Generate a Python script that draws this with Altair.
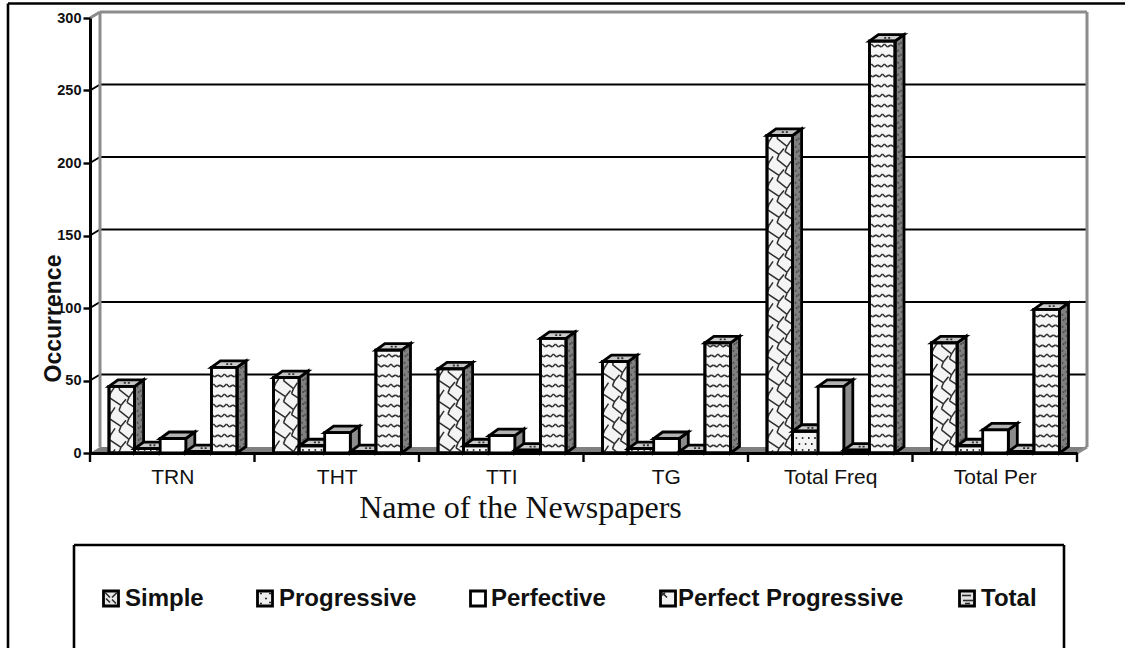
import altair as alt
import pandas as pd

# Occurrences per newspaper, one list per tense series
categories = ["TRN", "THT", "TTI", "TG", "Total Freq", "Total Per"]
simple = [46, 52, 58, 63, 219, 76]
progressive = [3, 5, 5, 3, 15, 5]
perfective = [10, 14, 12, 10, 46, 16]
perfect_progressive = [1, 1, 2, 1, 2, 1]
total = [59, 71, 79, 76, 284, 99]
series_names = ["Simple", "Progressive", "Perfective", "Perfect Progressive", "Total"]
series_values = [simple, progressive, perfective, perfect_progressive, total]
y_ticks = [0, 50, 100, 150, 200, 250, 300]

# Plot geometry in pixels
PLOT_W, PLOT_H = 987, 435
PAD_L, PAD_T = 90, 18
CAT_PX = PLOT_W / 6
VAL_PX = PLOT_H / 300
BAR_PX, BAR_START = 25.6, 19
DEPTH_X, DEPTH_Y = 9, 6.5
WALL_X, WALL_Y = 10, 6

def ux(px):
    return px / CAT_PX

def uy(px):
    return px / VAL_PX

x_scale = alt.Scale(domain=[0, 6], range=[0, PLOT_W], nice=False, zero=False)
y_scale = alt.Scale(domain=[0, 300], range=[PLOT_H, 0], nice=False)

def X(field, **kw):
    return alt.X(field, type="quantitative", scale=x_scale, axis=None, **kw)

def Y(field, **kw):
    return alt.Y(field, type="quantitative", scale=y_scale, axis=None, stack=None, **kw)

def clip_segment(x1, y1, x2, y2, xmin, xmax, ymin, ymax):
    """Liang-Barsky clipping of one segment against a rectangle."""
    t0, t1 = 0.0, 1.0
    dx, dy = x2 - x1, y2 - y1
    for p, q in ((-dx, x1 - xmin), (dx, xmax - x1), (-dy, y1 - ymin), (dy, ymax - y1)):
        if p == 0:
            if q < 0:
                return None
        else:
            r = q / p
            if p < 0:
                t0 = max(t0, r)
            else:
                t1 = min(t1, r)
    if t0 >= t1:
        return None
    return x1 + t0 * dx, y1 + t0 * dy, x1 + t1 * dx, y1 + t1 * dy

# Hatch motifs, as polylines in pixels (x right, y down)
CHAIN = [(0, 0), (10, 8), (8, 13), (20, 21), (18, 26)]
CHAIN_HOOKS = [((10, 8), (14, 2)), ((20, 21), (25, 15))]
WAVE = [(0, 0), (3, 3), (6.5, 1), (10, 3), (13, 0)]

def hatch_segments(left, value, kind):
    """Short segments (plot pixels, y negative above the base) texturing a front face."""
    h = value * VAL_PX
    out = []
    if kind == "chain":
        # Stepped diagonals running down to the right, stacked at a fixed pitch
        start = -h - 70.0
        while start < 0:
            ox, oy = -26.0, start
            for _ in range(4):
                pts = [(ox + a, oy + b) for a, b in CHAIN]
                pairs = list(zip(pts, pts[1:]))
                pairs += [((ox + p[0], oy + p[1]), (ox + q[0], oy + q[1])) for p, q in CHAIN_HOOKS]
                for (a, b), (c, d) in pairs:
                    seg = clip_segment(a, b, c, d, 0, BAR_PX, -h, 0)
                    if seg:
                        out.append(seg)
                ox += CHAIN[-1][0]
                oy += CHAIN[-1][1]
            start += 21.0
    elif kind == "wave":
        row = 1
        while row * 10 < h:
            for col in range(-1, 3):
                ox, oy = col * 13 + (row % 2) * 2, -row * 10 + 1
                pts = [(ox + a, oy + b) for a, b in WAVE]
                for (a, b), (c, d) in zip(pts, pts[1:]):
                    seg = clip_segment(a, b, c, d, 0, BAR_PX, -h, 0)
                    if seg:
                        out.append(seg)
            row += 1
    elif kind == "dots":
        row = 0
        while row * 6 + 3 < h:
            for col in range(4):
                cx = 3 + col * 6.2 + (row % 2) * 3
                if cx < BAR_PX - 1:
                    out.append((cx, -3 - row * 6, cx + 1.6, -3 - row * 6))
            row += 1
    return [(left + a, b, left + c, d) for a, b, c, d in out]

kinds = ["chain", "dots", None, "dots", "wave"]
front_fill = ["#f4f4f4", "#f4f4f4", "#ffffff", "#eeeeee", "#f6f6f6"]
top_fill = ["#c4c4c4", "#c8c8c8", "#b2b2b2", "#c8c8c8", "#cccccc"]
side_fill = ["#808080", "#808080", "#8c8c8c", "#808080", "#808080"]
EDGE = 2.8

layers = []

# Back wall, floor and gridlines
floor_df = pd.DataFrame({
    "y": [0, uy(WALL_Y)], "x": [0, ux(WALL_X)], "x2": [6, 6 + ux(WALL_X)]})
layers.append(alt.Chart(floor_df).mark_area(orient="horizontal", color="#808080").encode(
    y=Y("y"), x=X("x"), x2="x2"))

grid_df = pd.DataFrame({"v": y_ticks[1:-1]})
grid_df["y"] = grid_df["v"] + uy(WALL_Y)
grid_df["x"] = ux(WALL_X)
grid_df["x2"] = 6 + ux(WALL_X)
layers.append(alt.Chart(grid_df).mark_rule(color="black", strokeWidth=2.2).encode(
    x=X("x"), x2="x2", y=Y("y")))

# Slanted stubs linking the front axis to the wall
stub_df = pd.DataFrame({"v": y_ticks[1:-1]})
stub_df["y"] = stub_df["v"]
stub_df["y2"] = stub_df["v"] + uy(WALL_Y)
stub_df["x"] = 0.0
stub_df["x2"] = ux(WALL_X)
layers.append(alt.Chart(stub_df).mark_rule(color="black", strokeWidth=2).encode(
    x=X("x"), x2="x2", y=Y("y"), y2="y2"))

wall_top = 300 + uy(WALL_Y)
wall_base = uy(WALL_Y)
wall_df = pd.DataFrame({
    "x": [ux(WALL_X), ux(WALL_X), 6 + ux(WALL_X), 0.0, 6.0],
    "x2": [ux(WALL_X), 6 + ux(WALL_X), 6 + ux(WALL_X), ux(WALL_X), 6 + ux(WALL_X)],
    "y": [wall_base, wall_top, wall_top, 300.0, 0.0],
    "y2": [wall_top, wall_top, wall_base, wall_top, wall_base],
})
layers.append(alt.Chart(wall_df).mark_rule(color="#8c8c8c", strokeWidth=3).encode(
    x=X("x"), x2="x2", y=Y("y"), y2="y2"))

# Bars are painted series by series, left to right, so later bars hide earlier side faces
for s, (name, values) in enumerate(zip(series_names, series_values)):
    rows = []
    for c, v in enumerate(values):
        left = c + ux(BAR_START + s * BAR_PX)
        rows.append({"left": left, "right": left + ux(BAR_PX), "v": v, "cat": categories[c]})
    bars = pd.DataFrame(rows)

    side = []
    top = []
    for i, r in bars.iterrows():
        for offx, offy in ((0, 0), (ux(DEPTH_X), uy(DEPTH_Y))):
            side.append({"id": f"b{i}", "x": r["right"] + offx, "y": offy, "y2": r["v"] + offy})
        top.append({"id": f"b{i}", "y": r["v"], "x": r["left"], "x2": r["right"]})
        top.append({"id": f"b{i}", "y": r["v"] + uy(DEPTH_Y), "x": r["left"] + ux(DEPTH_X),
                    "x2": r["right"] + ux(DEPTH_X)})
    side_df = pd.DataFrame(side)
    top_df = pd.DataFrame(top)

    layers.append(alt.Chart(side_df).mark_area(
        color=side_fill[s], stroke="black", strokeWidth=EDGE, strokeJoin="miter"
    ).encode(x=X("x"), y=Y("y"), y2="y2", detail="id:N"))

    if kinds[s] is not None:
        speck = []
        for i, r in bars.iterrows():
            h = r["v"] * VAL_PX
            n = 0
            while n * 6 + 4 < h:
                for col, sx in enumerate((3, 6)):
                    px = sx + ((n + col) % 2)
                    base = (n * 6 + 3 + px * DEPTH_Y / DEPTH_X)
                    if base < h + px * DEPTH_Y / DEPTH_X - 1:
                        speck.append({"x": r["right"] + ux(px), "y": uy(base), "y2": uy(base + 2)})
                n += 1
        if speck:
            layers.append(alt.Chart(pd.DataFrame(speck)).mark_rule(
                color="#3c3c3c", strokeWidth=1.6, opacity=0.75
            ).encode(x=X("x"), y=Y("y"), y2="y2"))

    layers.append(alt.Chart(top_df).mark_area(
        orient="horizontal", color=top_fill[s], stroke="black", strokeWidth=EDGE, strokeJoin="miter"
    ).encode(y=Y("y"), x=X("x"), x2="x2", detail="id:N"))

    if kinds[s] is not None:
        tops = pd.DataFrame({
            "x": bars["left"] + ux(BAR_PX / 2 + 2),
            "x2": bars["left"] + ux(BAR_PX / 2 + 8),
            "y": bars["v"] + uy(3.4),
        })
        layers.append(alt.Chart(tops).mark_rule(
            color="#303030", strokeWidth=1.8, strokeDash=[2, 2]
        ).encode(x=X("x"), x2="x2", y=Y("y")))

    layers.append(alt.Chart(bars).mark_rect(
        fill=front_fill[s], stroke="black", strokeWidth=EDGE, strokeJoin="miter"
    ).encode(x=X("left"), x2="right", y=Y("v"), y2=alt.Y2(datum=0)))

    if kinds[s] is not None:
        segs = []
        for c, r in bars.iterrows():
            left_px = (r["left"] - c) * CAT_PX
            for a, b, e, d in hatch_segments(left_px, r["v"], kinds[s]):
                segs.append({"x": c + ux(a), "x2": c + ux(e), "y": uy(-b), "y2": uy(-d)})
        width = {"chain": 1.5, "wave": 1.5, "dots": 1.8}[kinds[s]]
        color = {"chain": "#2e2e2e", "wave": "#333333", "dots": "#2a2a2a"}[kinds[s]]
        layers.append(alt.Chart(pd.DataFrame(segs)).mark_rule(
            color=color, strokeWidth=width
        ).encode(x=X("x"), x2="x2", y=Y("y"), y2="y2"))
        # Keep the bar outline above its own hatching
        layers.append(alt.Chart(bars).mark_rect(
            fillOpacity=0, stroke="black", strokeWidth=EDGE, strokeJoin="miter"
        ).encode(x=X("left"), x2="right", y=Y("v"), y2=alt.Y2(datum=0)))

# Category ticks under the axis
tick_df = pd.DataFrame({"x": list(range(7))})
layers.append(alt.Chart(tick_df).mark_rule(color="black", strokeWidth=2.4).encode(
    x=X("x"), y=alt.value(PLOT_H), y2=alt.value(PLOT_H + 9)))

# Axes with labels and titles
names_js = "[" + ",".join(f"'{c}'" for c in categories) + "]"
axis_df = pd.DataFrame({"x": [0.0], "y": [0.0]})
layers.append(alt.Chart(axis_df).mark_point(opacity=0).encode(
    x=alt.X("x:Q", scale=x_scale, axis=alt.Axis(
        values=[i + 0.5 for i in range(6)],
        labelExpr=f"{names_js}[floor(datum.value)]",
        tickSize=0, labelFont="Liberation Sans", labelFontSize=21, labelColor="#111111",
        labelPadding=13, labelFlush=False, labelOverlap=False,
        domainColor="black", domainWidth=3, grid=False,
        title="Name of the Newspapers", titleFont="Liberation Serif", titleFontSize=32,
        titleFontWeight="normal", titleColor="#111111", titleX=430, titleY=54, titleBaseline="middle",
        zindex=1)),
    y=alt.Y("y:Q", scale=y_scale, axis=alt.Axis(
        values=y_ticks, tickSize=7, tickWidth=2.4, tickColor="black",
        labelFont="Liberation Sans", labelFontWeight="bold", labelFontSize=14.5,
        labelColor="#111111", labelPadding=2, labelOverlap=False, labelBound=False,
        domainColor="black", domainWidth=3, grid=False,
        title="Occurrence", titleFont="Liberation Sans", titleFontWeight="bold",
        titleFontSize=23, titleColor="#111111", titleAngle=270, titleX=-37, titleY=300,
        titleBaseline="middle", zindex=1)),
))

# Outer frame and legend box, in pixels from the plot origin
def frame_line(x1, y1, x2, y2, width=2.6, color="black"):
    return alt.Chart(axis_df).mark_rule(color=color, strokeWidth=width).encode(
        x=alt.value(x1 - PAD_L), x2=alt.value(x2 - PAD_L),
        y=alt.value(y1 - PAD_T), y2=alt.value(y2 - PAD_T))

CANVAS_W, CANVAS_H = 1125, 653
layers.append(frame_line(8, 3.5, CANVAS_W, 3.5))
layers.append(frame_line(8, 3.5, 8, CANVAS_H))
layers.append(frame_line(74, 545, 1064, 545))
layers.append(frame_line(74, 545, 74, CANVAS_H))
layers.append(frame_line(1064, 545, 1064, CANVAS_H))

# Hand-placed legend: the entries are unevenly spaced along one row
legend_swatch_x = [103, 257, 470, 660, 959]
legend_text_x = [125, 279, 491, 678, 981]
SWATCH_FILL = ["#e8e8e8", "#eeeeee", "#ffffff", "#f2f2f2", "#e4e4e4"]
legend_df = pd.DataFrame({
    "name": series_names,
    "sx": [v - PAD_L + 8 for v in legend_swatch_x],
    "tx": [v - PAD_L for v in legend_text_x],
    "fill": SWATCH_FILL,
})
layers.append(alt.Chart(legend_df).mark_square(size=225, stroke="black", strokeWidth=2.8, fillOpacity=1).encode(
    x=alt.X("sx:Q", scale=None, axis=None),
    y=alt.value(598.5 - PAD_T),
    fill=alt.Fill("fill:N", scale=None),
))

# Tiny marks inside the swatches, offsets from each swatch's centre
swatch_marks = {
    0: [(-6, -6, -1, -1), (6, -6, 1, -1), (-5, 0, -1, 4), (1, 1, 5, 5)],
    1: [(-5, -5, -3, -5), (4, -5, 6, -5), (-5, 5, -3, 5), (4, 4, 6, 4), (0, 0, 2, 0)],
    3: [(-6, -6, -1, -1), (-6, -3, -3, -6)],
    4: [(-5, -3, 4, -3), (-4, 2, 6, 2), (-2, 5, 3, 5)],
}
mark_rows = []
for idx, segs in swatch_marks.items():
    cx = legend_swatch_x[idx] + 8 - PAD_L
    cy = 598.5 - PAD_T
    for a, b, c, d in segs:
        mark_rows.append({"x": cx + a, "x2": cx + c, "y": cy + b, "y2": cy + d})
layers.append(alt.Chart(pd.DataFrame(mark_rows)).mark_rule(color="#2a2a2a", strokeWidth=1.6).encode(
    x=alt.X("x:Q", scale=None, axis=None), x2="x2",
    y=alt.Y("y:Q", scale=None, axis=None), y2="y2",
))

layers.append(alt.Chart(legend_df).mark_text(
    align="left", baseline="middle", font="Liberation Sans", fontWeight="bold",
    fontSize=24, color="#111111"
).encode(
    x=alt.X("tx:Q", scale=None, axis=None),
    y=alt.value(599 - PAD_T),
    text="name:N",
))

chart = alt.layer(*layers).resolve_axis(x="independent", y="independent").properties(
    width=PLOT_W,
    height=PLOT_H,
    autosize=alt.AutoSizeParams(type="none"),
    padding={"left": PAD_L, "top": PAD_T, "right": CANVAS_W - PAD_L - PLOT_W,
             "bottom": CANVAS_H - PAD_T - PLOT_H - 5},
    background="white",
).configure_view(stroke=None)

chart.save("out.html", embed_options={"renderer": "svg", "actions": False})
